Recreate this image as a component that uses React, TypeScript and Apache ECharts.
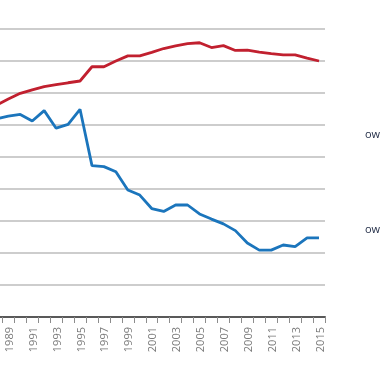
import React, { useEffect, useRef } from "react";
import * as echarts from "echarts";

const years: string[] = [
  "1988", "1989", "1990", "1991", "1992", "1993", "1994", "1995", "1996", "1997",
  "1998", "1999", "2000", "2001", "2002", "2003", "2004", "2005", "2006", "2007",
  "2008", "2009", "2010", "2011", "2012", "2013", "2014", "2015",
];

const redSeries: number[] = [
  66.2, 68.1, 69.9, 71.0, 72.0, 72.6, 73.2, 73.75, 78.2, 78.2,
  80.0, 81.6, 81.6, 82.7, 83.9, 84.7, 85.4, 85.7, 84.2, 84.8,
  83.3, 83.4, 82.8, 82.3, 81.9, 81.9, 80.9, 80.0,
];

const blueSeries: number[] = [
  61.9, 62.75, 63.3, 61.25, 64.5, 59.0, 60.2, 64.9, 47.3, 47.0,
  45.4, 39.7, 38.1, 33.9, 33.0, 35.0, 35.0, 32.2, 30.6, 29.1,
  27.0, 23.1, 20.9, 20.9, 22.5, 22.0, 24.7, 24.7,
];

const sideLabels: string[] = ["ow", "ow"];

export default function App() {
  const ref = useRef<HTMLDivElement>(null);
  useEffect(() => {
    if (!ref.current) return;
    const chart = echarts.init(ref.current, undefined, { renderer: "svg" });
    chart.setOption({
      animation: false,
      grid: { left: 30.4, right: 55, top: 29, bottom: 62 },
      xAxis: {
        type: "category",
        data: years,
        boundaryGap: true,
        axisLine: { show: true, lineStyle: { color: "#595959", width: 2 } },
        axisTick: { show: true, interval: 0, length: 6, lineStyle: { color: "#8c8c8c", width: 1 } },
        axisLabel: {
          interval: (i: number) => i % 2 === 1,
          rotate: 90,
          margin: 10,
          fontFamily: "Open Sans",
          fontSize: 11,
          color: "#7a7a7a",
        },
        splitLine: { show: false },
      },
      yAxis: {
        type: "value",
        min: 0,
        max: 90,
        interval: 10,
        axisLine: { show: false },
        axisTick: { show: false },
        axisLabel: { show: false },
        splitLine: { show: true, lineStyle: { color: "#bcbcbc", width: 1.5 } },
      },
      series: [
        {
          type: "line",
          data: redSeries,
          symbol: "none",
          lineStyle: { color: "#c1202f", width: 2.8 },
        },
        {
          type: "line",
          data: blueSeries,
          symbol: "none",
          lineStyle: { color: "#1b75bc", width: 2.8 },
        },
      ],
      graphic: [
        {
          type: "text",
          left: 405,
          top: 128,
          style: { text: sideLabels[0], fontFamily: "Open Sans", fontSize: 11, fill: "#1f2a44" },
        },
        {
          type: "text",
          left: 405,
          top: 223,
          style: { text: sideLabels[1], fontFamily: "Open Sans", fontSize: 11, fill: "#1f2a44" },
        },
      ],
    });
    return () => chart.dispose();
  }, []);
  return (
    <div
      ref={ref}
      style={{ position: "fixed", left: -40, top: 0, width: 420, height: 379 }}
    />
  );
}
